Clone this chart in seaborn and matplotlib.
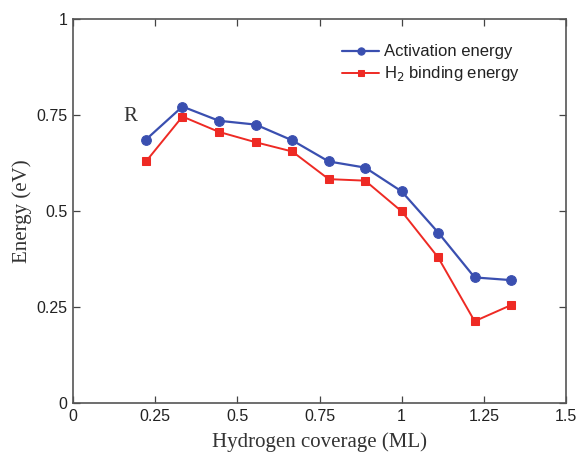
import matplotlib
matplotlib.use("Agg")
import matplotlib.pyplot as plt
import seaborn as sns
import pandas as pd

coverage = [0.222, 0.333, 0.444, 0.556, 0.667, 0.778, 0.889, 1.0, 1.111, 1.222, 1.333]
activation = [0.686, 0.772, 0.735, 0.725, 0.684, 0.629, 0.613, 0.551, 0.444, 0.327, 0.320]
binding = [0.629, 0.746, 0.706, 0.679, 0.655, 0.583, 0.579, 0.499, 0.379, 0.213, 0.255]
x_ticks = [0, 0.25, 0.5, 0.75, 1, 1.25, 1.5]
x_ticklabels = ["0", "0.25", "0.5", "0.75", "1", "1.25", "1.5"]
y_ticks = [0, 0.25, 0.5, 0.75, 1]
y_ticklabels = ["0", "0.25", "0.5", "0.75", "1"]

sns.set_theme(style="white")
plt.rcParams['font.family'] = ['Liberation Sans', 'DejaVu Sans']

fig = plt.figure(figsize=(5.79, 4.57), dpi=100)
ax = fig.add_axes([73/579, 1-403/457, (566-73)/579, (403-19)/457])

df_a = pd.DataFrame({"x": coverage, "y": activation})
df_b = pd.DataFrame({"x": coverage, "y": binding})
blue = "#3a4fb0"
red = "#ee2a24"
sns.lineplot(data=df_a, x="x", y="y", ax=ax, color=blue, marker="o", markersize=7,
             markeredgecolor=blue, linewidth=1.6, label="Activation energy")
sns.lineplot(data=df_b, x="x", y="y", ax=ax, color=red, marker="s", markersize=6,
             markeredgecolor=red, linewidth=1.4, label="H$_2$ binding energy")

ax.set_xlim(0, 1.5)
ax.set_ylim(0, 1)
ax.set_xticks(x_ticks)
ax.set_xticklabels(x_ticklabels)
ax.set_yticks(y_ticks)
ax.set_yticklabels(y_ticklabels)
ax.tick_params(direction="in", length=5, width=0.9, color="#444444", labelsize=11.5,
               top=True, right=True, bottom=True, left=True, labelcolor="#222222", pad=4)
for s in ax.spines.values():
    s.set_color("#555555")
    s.set_linewidth(1.2)

ax.set_xlabel("Hydrogen coverage (ML)", family=["Liberation Serif", "DejaVu Serif"],
              fontsize=15, color="#333333", labelpad=6)
ax.set_ylabel("Energy (eV)", family=["Liberation Serif", "DejaVu Serif"],
              fontsize=15, color="#333333", labelpad=3)
ax.text(0.173, 0.745, "R", family=["Liberation Serif", "DejaVu Serif"], fontsize=15,
        color="#333333", ha="center", va="center")

leg = ax.legend(loc="upper left", bbox_to_anchor=(0.533, 0.951), borderaxespad=0,
                frameon=False, fontsize=12, handlelength=2.2, handletextpad=0.3,
                labelspacing=0.3, markerscale=0.75)
for t in leg.get_texts():
    t.set_color("#222222")

fig.savefig("out.png", dpi=100)
